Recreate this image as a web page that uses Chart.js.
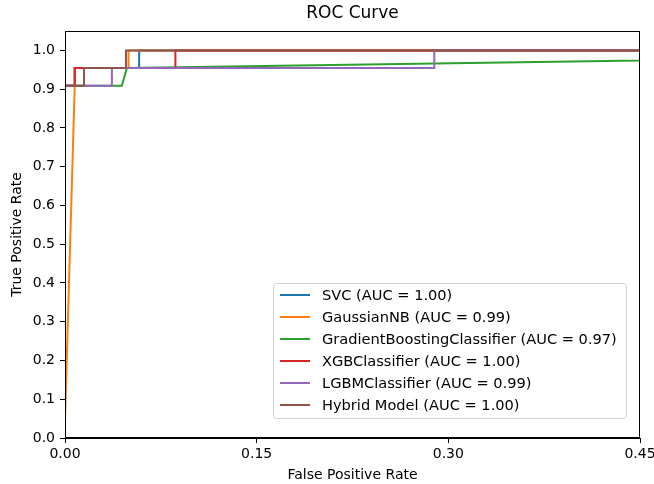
<!DOCTYPE html>
<html>
<head>
<meta charset="utf-8">
<title>ROC Curve</title>
<script src="https://cdn.jsdelivr.net/npm/chart.js@4.4.1/dist/chart.umd.min.js"></script>
<style>
  html, body { margin: 0; padding: 0; background: #fff; }
  canvas { display: block; }
</style>
</head>
<body>
<canvas id="rocChart" width="654" height="484"></canvas>
<script>
// models and their rounded AUC values
const modelNames = ['SVC', 'GaussianNB', 'GradientBoostingClassifier', 'XGBClassifier', 'LGBMClassifier', 'Hybrid Model'];
const aucValues = ['1.00', '0.99', '0.97', '1.00', '0.99', '1.00'];
const lineColors = ['#1f77b4', '#ff7f0e', '#2ca02c', '#d62728', '#9467bd', '#8c564b'];

// ROC points (false positive rate / true positive rate)
const svcFpr = [0, 0, 0.0076, 0.0076, 0.058, 0.058, 1];
const svcTpr = [0, 0.909, 0.909, 0.9545, 0.9545, 1, 1];
const nbFpr = [0, 0, 0.0076, 0.0076, 0.0497, 0.0497, 1];
const nbTpr = [0, 0.0455, 0.909, 0.9545, 0.9545, 1, 1];
const gbFpr = [0, 0, 0.0445, 0.0485, 1];
const gbTpr = [0, 0.909, 0.909, 0.9545, 1];
const xgbFpr = [0, 0, 0.0076, 0.0076, 0.0864, 0.0864, 1];
const xgbTpr = [0, 0.909, 0.909, 0.9545, 0.9545, 1, 1];
const lgbmFpr = [0, 0, 0.0367, 0.0367, 0.289, 0.289, 1];
const lgbmTpr = [0, 0.909, 0.909, 0.9545, 0.9545, 1, 1];
const hybridFpr = [0, 0, 0.0149, 0.0149, 0.0477, 0.0477, 1];
const hybridTpr = [0, 0.909, 0.909, 0.9545, 0.9545, 1, 1];

const xTicks = [0, 0.15, 0.30, 0.45];
const yTicks = [0, 0.1, 0.2, 0.3, 0.4, 0.5, 0.6, 0.7, 0.8, 0.9, 1.0];

const fprList = [svcFpr, nbFpr, gbFpr, xgbFpr, lgbmFpr, hybridFpr];
const tprList = [svcTpr, nbTpr, gbTpr, xgbTpr, lgbmTpr, hybridTpr];

const fontFamily = '"DejaVu Sans", sans-serif';

function toPoints(xs, ys) {
  return xs.map(function (x, i) { return { x: x, y: ys[i] }; });
}

var datasets = modelNames.map(function (name, i) {
  return {
    label: name + ' (AUC = ' + aucValues[i] + ')',
    data: toPoints(fprList[i], tprList[i]),
    borderColor: lineColors[i],
    backgroundColor: lineColors[i],
    borderWidth: 2,
    pointRadius: 0,
    tension: 0,
    fill: false,
    order: modelNames.length - i   // later models on top, like matplotlib
  };
});

// title, top/right frame and the legend box inside the plot
const rocDecor = {
  id: 'rocDecor',
  afterDatasetsDraw: function (chart) {
    var ctx = chart.ctx;
    var a = chart.chartArea;
    ctx.save();
    ctx.strokeStyle = '#000';
    ctx.lineWidth = 1;
    ctx.strokeRect(Math.round(a.left) + 0.5, Math.round(a.top) + 0.5, Math.round(a.right - a.left) - 1, Math.round(a.bottom - a.top) - 1);
    ctx.restore();
  },
  afterDraw: function (chart) {
    var ctx = chart.ctx;
    var a = chart.chartArea;
    ctx.save();
    ctx.fillStyle = '#000';
    ctx.font = '17px ' + fontFamily;
    ctx.textAlign = 'center';
    ctx.textBaseline = 'middle';
    ctx.fillText('ROC Curve', (a.left + a.right) / 2, 14);

    // legend
    var bx = 273.5, by = 283.5, bw = 353, bh = 135;
    ctx.beginPath();
    ctx.roundRect(bx, by, bw, bh, 3);
    ctx.fillStyle = 'rgba(255,255,255,0.8)';
    ctx.fill();
    ctx.strokeStyle = '#d0d0d0';
    ctx.lineWidth = 1;
    ctx.stroke();

    ctx.font = '14.6px ' + fontFamily;
    ctx.textAlign = 'left';
    chart.data.datasets.forEach(function (ds, i) {
      var ry = 295 + i * 22;
      ctx.beginPath();
      ctx.moveTo(280, ry);
      ctx.lineTo(310, ry);
      ctx.strokeStyle = ds.borderColor;
      ctx.lineWidth = 2;
      ctx.stroke();
      ctx.fillStyle = '#000';
      ctx.fillText(ds.label, 322, ry + 1);
    });
    ctx.restore();
  }
};

var ctx = document.getElementById('rocChart').getContext('2d');
var rocChart = new Chart(ctx, {
  type: 'line',
  data: { datasets: datasets },
  options: {
    responsive: false,
    animation: false,
    parsing: true,
    layout: { padding: { top: 31, right: 14, left: 0, bottom: 0 } },
    plugins: {
      legend: { display: false },
      title: { display: false },
      tooltip: { enabled: false }
    },
    scales: {
      x: {
        type: 'linear',
        min: 0,
        max: 0.45,
        afterFit: function (scale) {
          scale.height = 46;
          scale.paddingLeft = 0;
          scale.paddingRight = 0;
        },
        afterBuildTicks: function (scale) {
          scale.ticks = xTicks.map(function (v) { return { value: v }; });
        },
        ticks: {
          color: '#000',
          padding: 3,
          maxRotation: 0,
          font: { family: fontFamily, size: 14 },
          callback: function (v) { return Number(v).toFixed(2); }
        },
        grid: { drawOnChartArea: false, drawTicks: true, tickLength: 5, color: '#000' },
        border: { display: true, color: '#000' },
        title: {
          display: true,
          text: 'False Positive Rate',
          color: '#000',
          font: { family: fontFamily, size: 14 },
          padding: { top: 0, bottom: 0 }
        }
      },
      y: {
        type: 'linear',
        min: 0,
        max: 1.05,
        afterFit: function (scale) { scale.width = 65; },
        afterBuildTicks: function (scale) {
          scale.ticks = yTicks.map(function (v) { return { value: v }; });
        },
        ticks: {
          color: '#000',
          padding: 5,
          font: { family: fontFamily, size: 14 },
          callback: function (v) { return Number(v).toFixed(1); }
        },
        grid: { drawOnChartArea: false, drawTicks: true, tickLength: 5, color: '#000' },
        border: { display: true, color: '#000' },
        title: {
          display: true,
          text: 'True Positive Rate',
          color: '#000',
          font: { family: fontFamily, size: 14 },
          padding: { top: 9, bottom: 0 }
        }
      }
    }
  },
  plugins: [rocDecor]
});
</script>
</body>
</html>
